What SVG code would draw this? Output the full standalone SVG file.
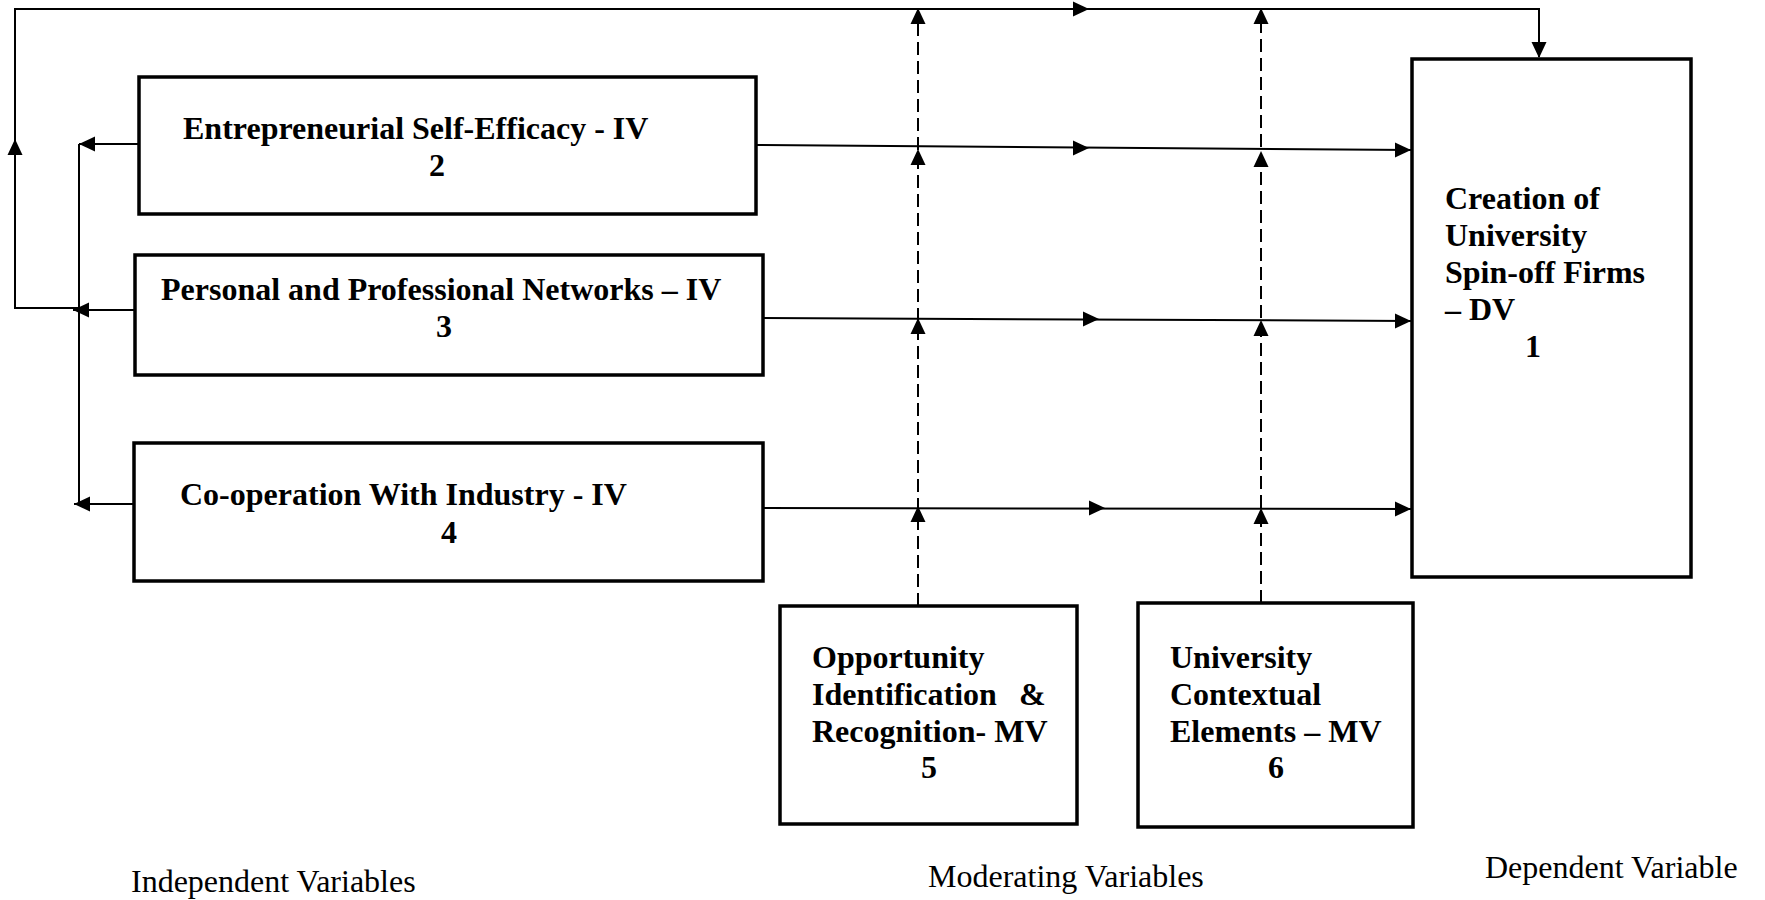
<svg xmlns="http://www.w3.org/2000/svg" xmlns:xlink="http://www.w3.org/1999/xlink" width="1765" height="900" viewBox="0 0 1765 900">
<style>
.box{fill:#fff;stroke:#000;stroke-width:3.5}
.ln{fill:none;stroke:#000;stroke-width:2}
.dash{fill:none;stroke:#000;stroke-width:2;stroke-dasharray:13,6}
.b{font-family:"Liberation Serif","Times New Roman",serif;font-weight:bold;font-size:32px;fill:#000}
.r{font-family:"Liberation Serif","Times New Roman",serif;font-size:32px;fill:#000}
</style>
<defs>
<path id="ah" d="M0,0 L-16,-7.5 L-16,7.5 Z" fill="#000"/>
</defs>
<rect width="1765" height="900" fill="#fff"/>
<g id="connectors">
<path class="ln" d="M79,308 H15 V9 H1539 V57"/>
<path class="ln" d="M79,144 V505"/>
<path class="ln" d="M139,144 H79"/>
<path class="ln" d="M135,310 H73"/>
<path class="ln" d="M134,504 H74"/>
<path class="ln" d="M756,145 L1412,150"/>
<path class="ln" d="M763,318 L1412,321"/>
<path class="ln" d="M763,508 L1412,509"/>
<path class="dash" d="M918,606 V9"/>
<path class="dash" d="M1261,603 V9"/>
<use xlink:href="#ah" transform="translate(15,139) rotate(-90)"/>
<use xlink:href="#ah" transform="translate(1089,9)"/>
<use xlink:href="#ah" transform="translate(1539,58) rotate(90)"/>
<use xlink:href="#ah" transform="translate(79,144) rotate(180)"/>
<use xlink:href="#ah" transform="translate(73,310) rotate(180)"/>
<use xlink:href="#ah" transform="translate(74,504) rotate(180)"/>
<use xlink:href="#ah" transform="translate(1089,148)"/>
<use xlink:href="#ah" transform="translate(1411,150)"/>
<use xlink:href="#ah" transform="translate(1099,319)"/>
<use xlink:href="#ah" transform="translate(1411,321)"/>
<use xlink:href="#ah" transform="translate(1105,508)"/>
<use xlink:href="#ah" transform="translate(1411,509)"/>
<use xlink:href="#ah" transform="translate(918,8) rotate(-90)"/>
<use xlink:href="#ah" transform="translate(918,149) rotate(-90)"/>
<use xlink:href="#ah" transform="translate(918,318) rotate(-90)"/>
<use xlink:href="#ah" transform="translate(918,506) rotate(-90)"/>
<use xlink:href="#ah" transform="translate(1261,8) rotate(-90)"/>
<use xlink:href="#ah" transform="translate(1261,151) rotate(-90)"/>
<use xlink:href="#ah" transform="translate(1261,320) rotate(-90)"/>
<use xlink:href="#ah" transform="translate(1261,508) rotate(-90)"/>
</g>
<g id="node1">
<rect class="box" x="1412" y="59" width="279" height="518"/>
<text class="b" x="1445" y="209">Creation of</text>
<text class="b" x="1445" y="246">University</text>
<text class="b" x="1445" y="283">Spin-off Firms</text>
<text class="b" x="1445" y="320">– DV</text>
<text class="b" x="1533" y="357" text-anchor="middle">1</text>
</g>
<g id="node2">
<rect class="box" x="139" y="77" width="617" height="137"/>
<text class="b" x="183" y="139">Entrepreneurial Self-Efficacy - IV</text>
<text class="b" x="437" y="176" text-anchor="middle">2</text>
</g>
<g id="node3">
<rect class="box" x="135" y="255" width="628" height="120"/>
<text class="b" x="161" y="300">Personal and Professional Networks – IV</text>
<text class="b" x="444" y="337" text-anchor="middle">3</text>
</g>
<g id="node4">
<rect class="box" x="134" y="443" width="629" height="138"/>
<text class="b" x="180" y="505">Co-operation With Industry - IV</text>
<text class="b" x="449" y="543" text-anchor="middle">4</text>
</g>
<g id="node5">
<rect class="box" x="780" y="606" width="297" height="218"/>
<text class="b" x="812" y="668">Opportunity</text>
<text class="b" x="812" y="705">Identification<tspan x="1019">&amp;</tspan></text>
<text class="b" x="812" y="742">Recognition- MV</text>
<text class="b" x="929" y="778" text-anchor="middle">5</text>
</g>
<g id="node6">
<rect class="box" x="1138" y="603" width="275" height="224"/>
<text class="b" x="1170" y="668">University</text>
<text class="b" x="1170" y="705">Contextual</text>
<text class="b" x="1170" y="742">Elements – MV</text>
<text class="b" x="1276" y="778" text-anchor="middle">6</text>
</g>
<g id="labels">
<text class="r" x="131" y="892">Independent Variables</text>
<text class="r" x="928" y="887">Moderating Variables</text>
<text class="r" x="1485" y="878">Dependent Variable</text>
</g>
</svg>
